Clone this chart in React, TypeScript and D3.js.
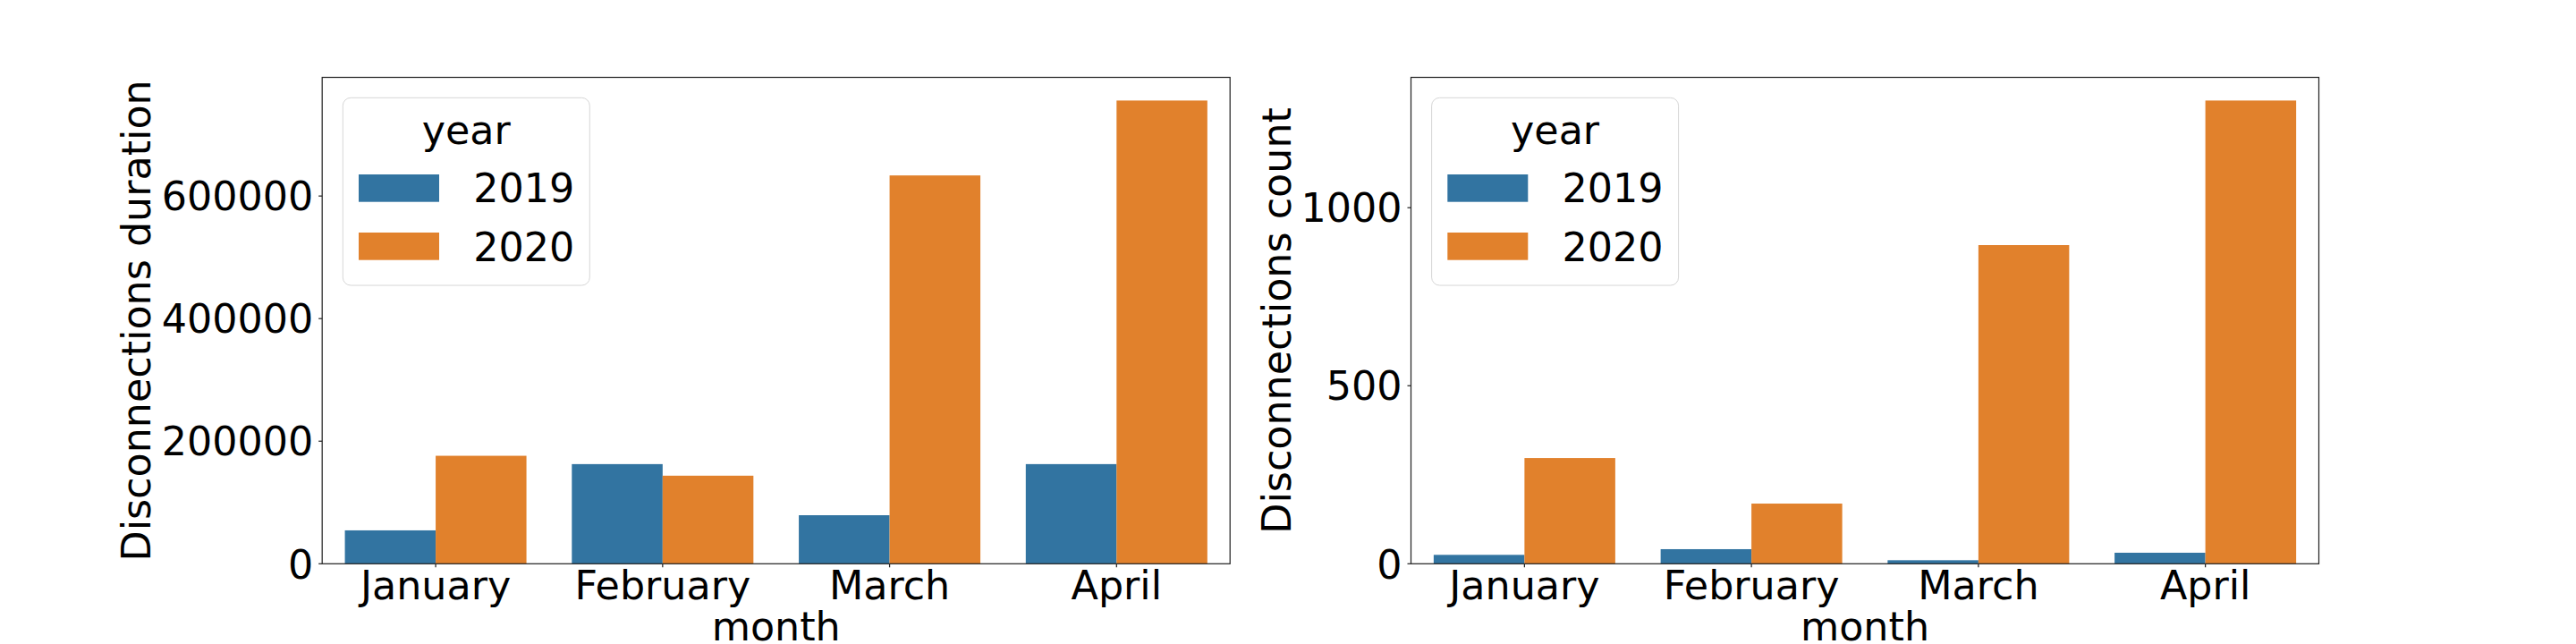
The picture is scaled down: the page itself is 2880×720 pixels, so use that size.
import React from "react";
import * as d3 from "d3";

const months = ["January", "February", "March", "April"];
const years = ["2019", "2020"];
const duration2019 = [54500, 162600, 79200, 162600];
const duration2020 = [176200, 143700, 633600, 755800];
const count2019 = [25, 41, 10, 31];
const count2020 = [297, 169, 895, 1301];
const durationTicks = [0, 200000, 400000, 600000];
const countTicks = [0, 500, 1000];
const colors = ["#3274a1", "#e1812c"];

const W = 2880;
const H = 720;
const FONT = "'DejaVu Sans', sans-serif";
const FS = 44.4;
const TOP = 86.5;
const BOTTOM = 630.3;
const AX_W = 1015;

type PanelProps = {
  x0: number;
  series: number[][];
  ticks: number[];
  ylabel: string;
  ylabelX: number;
};

function Panel({ x0, series, ticks, ylabel, ylabelX }: PanelProps) {
  const x1 = x0 + AX_W;
  const maxV = d3.max(series.flat()) as number;
  const y = d3.scaleLinear().domain([0, maxV * 1.05]).range([BOTTOM, TOP]);
  const xc = d3.scaleLinear().domain([-0.5, months.length - 0.5]).range([x0, x1]);
  const xInner = d3.scaleBand().domain(years).range([-0.4, 0.4]).padding(0);
  const midY = (TOP + BOTTOM) / 2;
  const lgX = x0 + 23.1;
  const lgY = 109.3;
  return (
    <g>
      {months.map((m, i) =>
        years.map((yr, j) => {
          const v = series[j][i];
          const bx = xc(i + (xInner(yr) as number));
          const bw = xc(xInner.bandwidth()) - xc(0);
          return (
            <rect
              key={m + yr}
              x={bx}
              y={y(v)}
              width={bw}
              height={BOTTOM - y(v)}
              fill={colors[j]}
            />
          );
        })
      )}
      <rect
        x={x0}
        y={TOP}
        width={AX_W}
        height={BOTTOM - TOP}
        fill="none"
        stroke="#262626"
        strokeWidth={1.25}
      />
      {ticks.map((t) => (
        <g key={t}>
          <line x1={x0 - 4} x2={x0} y1={y(t)} y2={y(t)} stroke="#262626" strokeWidth={1.25} />
          <text
            x={x0 - 10}
            y={y(t) + 0.365 * FS}
            textAnchor="end"
            fontFamily={FONT}
            fontSize={FS}
            fill="#000"
          >
            {t}
          </text>
        </g>
      ))}
      {months.map((m, i) => (
        <g key={m}>
          <line x1={xc(i)} x2={xc(i)} y1={BOTTOM} y2={BOTTOM + 4} stroke="#262626" strokeWidth={1.25} />
          <text x={xc(i)} y={670} textAnchor="middle" fontFamily={FONT} fontSize={FS} fill="#000">
            {m}
          </text>
        </g>
      ))}
      <text
        x={(x0 + x1) / 2}
        y={716}
        textAnchor="middle"
        fontFamily={FONT}
        fontSize={FS}
        fill="#000"
      >
        month
      </text>
      <text
        transform={`translate(${ylabelX},${midY}) rotate(-90)`}
        textAnchor="middle"
        fontFamily={FONT}
        fontSize={FS}
        fill="#000"
      >
        {ylabel}
      </text>
      <g>
        <rect
          x={lgX}
          y={lgY}
          width={276}
          height={209.7}
          rx={8.9}
          ry={8.9}
          fill="#ffffff"
          fillOpacity={0.8}
          stroke="#d6d6d6"
          strokeWidth={1}
        />
        <text x={lgX + 138} y={160.7} textAnchor="middle" fontFamily={FONT} fontSize={FS} fill="#000">
          year
        </text>
        {years.map((yr, j) => (
          <g key={yr}>
            <rect x={lgX + 17.7} y={195 + j * 65} width={90} height={30.7} fill={colors[j]} />
            <text x={lgX + 146} y={225.7 + j * 66} fontFamily={FONT} fontSize={FS} fill="#000">
              {yr}
            </text>
          </g>
        ))}
      </g>
    </g>
  );
}

export default function App() {
  return (
    <svg
      width={W}
      height={H}
      viewBox={`0 0 ${W} ${H}`}
      style={{ position: "absolute", left: 0, top: 0, background: "#fff" }}
    >
      <rect x={0} y={0} width={W} height={H} fill="#fff" />
      <Panel
        x0={360.2}
        series={[duration2019, duration2020]}
        ticks={durationTicks}
        ylabel="Disconnections duration"
        ylabelX={168.3}
      />
      <Panel
        x0={1577.5}
        series={[count2019, count2020]}
        ticks={countTicks}
        ylabel="Disconnections count"
        ylabelX={1443.3}
      />
    </svg>
  );
}
